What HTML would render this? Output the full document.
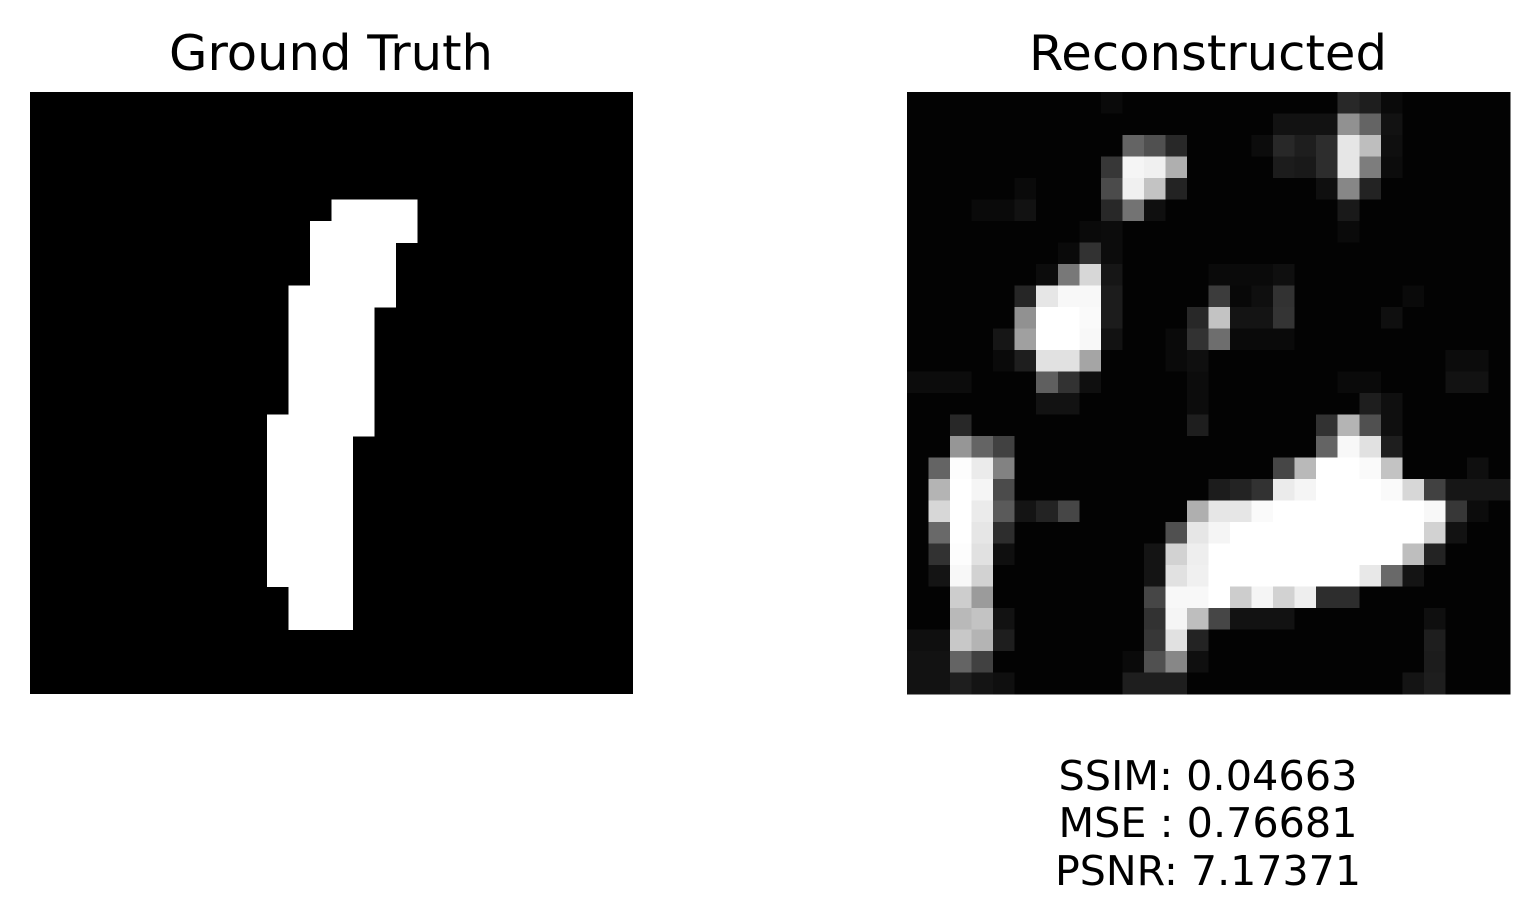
<!DOCTYPE html>
<html><head><meta charset="utf-8"><style>
html,body{margin:0;padding:0;background:#fff;}
svg{display:block;}
text{font-family:"DejaVu Sans","Liberation Sans",sans-serif;fill:#000;}
</style></head><body>
<svg id="fig" width="1539" height="924" viewBox="0 0 1539 924" xmlns="http://www.w3.org/2000/svg">
<rect width="1539" height="924" fill="#fff"/>
<text x="331" y="70" font-size="49" text-anchor="middle" textLength="324" lengthAdjust="spacingAndGlyphs">Ground Truth</text>
<text x="1208" y="70" font-size="49" text-anchor="middle" textLength="358" lengthAdjust="spacingAndGlyphs">Reconstructed</text>
<g id="gt"></g>
<g id="rc"></g>
<text x="1208" y="790" font-size="41" text-anchor="middle" textLength="299" lengthAdjust="spacingAndGlyphs">SSIM: 0.04663</text>
<text x="1208" y="837" font-size="41" text-anchor="middle" textLength="299" lengthAdjust="spacingAndGlyphs">MSE : 0.76681</text>
<text x="1208" y="885" font-size="41" text-anchor="middle" textLength="306" lengthAdjust="spacingAndGlyphs">PSNR: 7.17371</text>
</svg>
<script>
// Ground truth mask: [row, startCol, endCol] inclusive
const gtRuns = [
[5,14,17],[6,13,17],[7,13,16],[8,13,16],[9,12,16],
[10,12,15],[11,12,15],[12,12,15],[13,12,15],[14,12,15],
[15,11,15],[16,11,14],[17,11,14],[18,11,14],[19,11,14],[20,11,14],[21,11,14],[22,11,14],
[23,12,14],[24,12,14]
];
const reconBackground = 3;
// Reconstructed intensities: [row, col, value 0-255]
const reconCells = [
[0,20,40],[0,21,30],[0,22,10],[0,9,10],
[1,17,18],[1,18,18],[1,19,18],[1,20,145],[1,21,100],[1,22,18],
[2,10,100],[2,11,80],[2,12,40],[2,16,12],[2,17,40],[2,18,30],[2,19,45],[2,20,230],[2,21,190],[2,22,15],
[3,9,55],[3,10,245],[3,11,240],[3,12,175],[3,17,28],[3,18,25],[3,19,45],[3,20,230],[3,21,125],[3,22,12],
[4,5,10],[4,9,75],[4,10,240],[4,11,195],[4,12,35],[4,19,15],[4,20,135],[4,21,35],
[5,3,10],[5,4,10],[5,5,18],[5,9,40],[5,10,115],[5,11,15],[5,20,25],
[6,8,10],[6,9,12],[6,20,10],
[7,7,10],[7,8,50],[7,9,12],
[8,6,12],[8,7,120],[8,8,215],[8,9,22],[8,14,10],[8,15,10],[8,16,10],[8,17,15],
[9,5,38],[9,6,230],[9,7,248],[9,8,248],[9,9,28],[9,14,60],[9,15,8],[9,16,15],[9,17,50],[9,23,10],
[10,5,145],[10,6,255],[10,7,255],[10,8,250],[10,9,28],[10,13,40],[10,14,195],[10,15,20],[10,16,20],[10,17,52],[10,22,15],
[11,4,22],[11,5,160],[11,6,255],[11,7,255],[11,8,248],[11,9,18],[11,12,10],[11,13,50],[11,14,110],[11,15,10],[11,16,10],[11,17,10],
[12,4,10],[12,5,30],[12,6,225],[12,7,225],[12,8,165],[12,12,10],[12,13,15],[12,25,12],[12,26,12],
[13,0,12],[13,1,12],[13,2,12],[13,6,95],[13,7,50],[13,8,15],[13,13,12],[13,20,10],[13,21,10],[13,25,18],[13,26,18],
[14,6,18],[14,7,18],[14,13,12],[14,21,30],[14,22,15],
[15,2,40],[15,13,30],[15,19,50],[15,20,180],[15,21,80],[15,22,15],
[16,2,150],[16,3,100],[16,4,65],[16,19,100],[16,20,248],[16,21,225],[16,22,30],
[17,1,100],[17,2,253],[17,3,235],[17,4,130],[17,17,70],[17,18,185],[17,19,255],[17,20,255],[17,21,250],[17,22,195],[17,26,15],
[18,1,180],[18,2,255],[18,3,245],[18,4,75],[18,14,28],[18,15,35],[18,16,50],[18,17,235],[18,18,245],[18,19,255],[18,20,255],[18,21,255],[18,22,250],[18,23,215],[18,24,65],[18,25,22],[18,26,22],[18,27,22],
[19,1,215],[19,2,255],[19,3,235],[19,4,90],[19,5,20],[19,6,35],[19,7,70],[19,13,175],[19,14,230],[19,15,230],[19,16,250],[19,17,255],[19,18,255],[19,19,255],[19,20,255],[19,21,255],[19,22,255],[19,23,255],[19,24,248],[19,25,55],[19,26,12],
[20,1,105],[20,2,255],[20,3,230],[20,4,45],[20,12,80],[20,13,230],[20,14,245],[20,15,255],[20,16,255],[20,17,255],[20,18,255],[20,19,255],[20,20,255],[20,21,255],[20,22,255],[20,23,255],[20,24,210],[20,25,18],
[21,1,50],[21,2,253],[21,3,225],[21,4,15],[21,11,20],[21,12,210],[21,13,238],[21,14,255],[21,15,255],[21,16,255],[21,17,255],[21,18,255],[21,19,255],[21,20,255],[21,21,255],[21,22,255],[21,23,190],[21,24,35],
[22,1,20],[22,2,248],[22,3,210],[22,11,20],[22,12,225],[22,13,240],[22,14,255],[22,15,255],[22,16,255],[22,17,255],[22,18,255],[22,19,255],[22,20,255],[22,21,232],[22,22,105],[22,23,20],
[23,2,205],[23,3,155],[23,11,70],[23,12,248],[23,13,248],[23,14,255],[23,15,205],[23,16,245],[23,17,210],[23,18,238],[23,19,45],[23,20,45],
[24,2,185],[24,3,195],[24,4,18],[24,11,50],[24,12,245],[24,13,190],[24,14,70],[24,15,18],[24,16,18],[24,17,18],[24,24,15],
[25,0,15],[25,1,15],[25,2,200],[25,3,180],[25,4,30],[25,11,55],[25,12,225],[25,13,35],[25,24,30],
[26,0,18],[26,1,18],[26,2,100],[26,3,65],[26,10,10],[26,11,80],[26,12,135],[26,13,15],[26,24,28],
[27,0,18],[27,1,18],[27,2,30],[27,3,20],[27,4,15],[27,10,30],[27,11,30],[27,12,30],[27,23,20],[27,24,30]
];
const N = 28;
const NS = 'http://www.w3.org/2000/svg';
const L = {x:30, y:92, w:603, h:602};
const R = {x:907, y:92, w:603, h:602};
function cx(box, c){ return box.x + c*box.w/N; }
function cy(box, r){ return box.y + r*box.h/N; }
function rect(g, x, y, w, h, fill){
  const e = document.createElementNS(NS,'rect');
  e.setAttribute('x',x); e.setAttribute('y',y); e.setAttribute('width',w); e.setAttribute('height',h);
  e.setAttribute('fill',fill); e.setAttribute('shape-rendering','crispEdges');
  g.appendChild(e); return e;
}
const gt = document.getElementById('gt');
const bg1 = rect(gt, L.x, L.y, L.w, L.h, '#000');


gtRuns.forEach(([r,c0,c1])=>{
  const e = rect(gt, cx(L,c0), cy(L,r), cx(L,c1+1)-cx(L,c0), cy(L,r+1)-cy(L,r)+0.5, '#fff');
  
  
});
const rc = document.getElementById('rc');
const grid = [];
for(let r=0;r<N;r++){ grid.push(new Array(N).fill(reconBackground)); }
reconCells.forEach(([r,c,v])=>{ grid[r][c]=v; });
for(let r=0;r<N;r++){ for(let c=0;c<N;c++){
  const v = grid[r][c];
  const e = rect(rc, cx(R,c), cy(R,r), cx(R,c+1)-cx(R,c)+0.5, cy(R,r+1)-cy(R,r)+0.5, `rgb(${v},${v},${v})`);
  
  
}}
</script>
</body></html>
